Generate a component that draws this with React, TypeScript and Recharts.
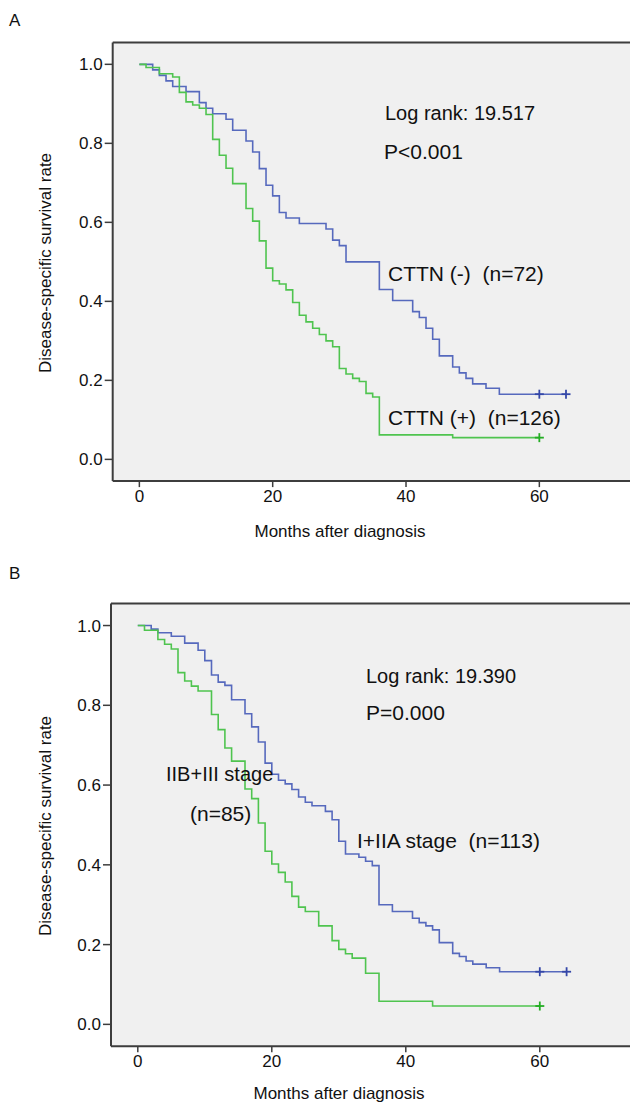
import React from 'react';
import { ComposedChart, Line, Scatter, XAxis, YAxis, CartesianGrid, ReferenceLine } from 'recharts';

const FONT = '"Liberation Sans", Arial, Helvetica, sans-serif';
const BLUE = '#5669bd';
const GREEN = '#4fc44f';
const BLUE_MARK = '#3447a8';
const GREEN_MARK = '#24ad24';

const monthTicks = [0, 20, 40, 60];
const rateTicks = [0, 0.2, 0.4, 0.6, 0.8, 1.0];

// A: CTTN (-), n=72
const aNegMonths = [0, 2, 3, 4, 5, 7, 9, 10, 11, 13, 14, 16, 17, 18, 19, 20, 21, 22, 24, 28, 29, 30, 31, 36, 38, 41, 42, 43, 44, 45, 47, 48, 49, 50, 52, 54, 64];
const aNegRate = [1.0, 0.986, 0.972, 0.958, 0.944, 0.931, 0.903, 0.889, 0.875, 0.861, 0.833, 0.806, 0.778, 0.736, 0.694, 0.667, 0.625, 0.611, 0.597, 0.583, 0.555, 0.541, 0.5, 0.43, 0.402, 0.374, 0.359, 0.332, 0.304, 0.262, 0.234, 0.219, 0.205, 0.191, 0.18, 0.165, 0.165];
const aNegCensor = [60, 64];

// A: CTTN (+), n=126
const aPosMonths = [0, 1, 3, 5, 6, 7, 8, 9, 10, 11, 12, 13, 14, 16, 17, 18, 19, 20, 21, 22, 23, 24, 25, 26, 27, 28, 29, 30, 31, 32, 33, 34, 35, 36, 47, 60];
const aPosRate = [1.0, 0.992, 0.976, 0.968, 0.929, 0.905, 0.897, 0.889, 0.873, 0.81, 0.77, 0.737, 0.698, 0.635, 0.603, 0.553, 0.484, 0.452, 0.444, 0.429, 0.397, 0.365, 0.348, 0.332, 0.316, 0.3, 0.285, 0.23, 0.216, 0.205, 0.197, 0.167, 0.158, 0.062, 0.055, 0.055];
const aPosCensor = [60];

// B: I+IIA stage, n=113
const bEarlyMonths = [0, 2, 3, 5, 7, 9, 10, 11, 12, 13, 14, 16, 17, 18, 19, 20, 21, 22, 23, 24, 25, 26, 28, 29, 30, 31, 33, 34, 35, 36, 38, 41, 42, 43, 44, 45, 47, 48, 49, 50, 52, 54, 64];
const bEarlyRate = [1.0, 0.991, 0.982, 0.973, 0.956, 0.938, 0.912, 0.876, 0.858, 0.85, 0.814, 0.779, 0.746, 0.708, 0.655, 0.627, 0.612, 0.603, 0.589, 0.57, 0.557, 0.548, 0.534, 0.513, 0.459, 0.427, 0.419, 0.409, 0.398, 0.3, 0.283, 0.266, 0.255, 0.247, 0.237, 0.205, 0.178, 0.17, 0.159, 0.151, 0.142, 0.132, 0.132];
const bEarlyCensor = [60, 64];

// B: IIB+III stage, n=85
const bLateMonths = [0, 1, 3, 4, 5, 6, 7, 8, 9, 11, 12, 13, 14, 16, 17, 18, 19, 20, 21, 22, 23, 24, 25, 27, 29, 30, 31, 32, 34, 36, 44, 60];
const bLateRate = [1.0, 0.988, 0.965, 0.953, 0.941, 0.882, 0.861, 0.848, 0.836, 0.777, 0.739, 0.693, 0.66, 0.59, 0.566, 0.505, 0.434, 0.402, 0.381, 0.357, 0.321, 0.294, 0.283, 0.247, 0.21, 0.188, 0.177, 0.166, 0.128, 0.058, 0.046, 0.046];
const bLateCensor = [60];

type Point = { t: number; s: number };

const toPoints = (months: number[], rate: number[]): Point[] => months.map((t, i) => ({ t, s: rate[i] }));

const levelAt = (months: number[], rate: number[], t: number) => {
  let v = rate[0];
  months.forEach((m, i) => {
    if (m <= t) v = rate[i];
  });
  return v;
};

const censorPoints = (censor: number[], months: number[], rate: number[]): Point[] =>
  censor.map((t) => ({ t, s: levelAt(months, rate, t) }));

const Plus = ({ cx, cy, color }: { cx?: number; cy?: number; color: string }) => {
  if (cx == null || cy == null) return null;
  return (
    <g>
      <line x1={cx - 4.5} x2={cx + 4.5} y1={cy} y2={cy} stroke={color} strokeWidth={1.8} />
      <line x1={cx} x2={cx} y1={cy - 4.5} y2={cy + 4.5} stroke={color} strokeWidth={1.8} />
    </g>
  );
};

interface Curve {
  months: number[];
  rate: number[];
  censor: number[];
  color: string;
  mark: string;
}

interface KMChartProps {
  width: number;
  height: number;
  margin: { top: number; left: number; right: number; bottom: number };
  curves: Curve[];
}

const FRAME = '#3d3d3d';

const KMChart: React.FC<KMChartProps> = ({ width, height, margin, curves }) => (
  <ComposedChart width={width} height={height} margin={margin}>
    <CartesianGrid horizontal={false} vertical={false} fill="#f0f0f0" />
    <XAxis
      type="number"
      dataKey="t"
      domain={[-4, 76]}
      ticks={monthTicks}
      allowDataOverflow
      height={40}
      tickSize={6}
      tickMargin={3}
      axisLine={{ stroke: FRAME, strokeWidth: 2 }}
      tickLine={{ stroke: FRAME, strokeWidth: 1.5 }}
      tick={{ fill: '#111', fontSize: 17, fontFamily: FONT }}
    />
    <YAxis
      type="number"
      dataKey="s"
      domain={[-0.055, 1.055]}
      ticks={rateTicks}
      allowDataOverflow
      width={50}
      tickSize={8}
      tickMargin={2}
      tickFormatter={(v: number) => v.toFixed(1)}
      axisLine={{ stroke: FRAME, strokeWidth: 2 }}
      tickLine={{ stroke: FRAME, strokeWidth: 1.5 }}
      tick={{ fill: '#111', fontSize: 17, fontFamily: FONT }}
    />
    <ReferenceLine y={1.055} stroke={FRAME} strokeWidth={2} />
    {curves.map((c, i) => (
      <Line
        key={`line-${i}`}
        data={toPoints(c.months, c.rate)}
        dataKey="s"
        type="stepAfter"
        stroke={c.color}
        strokeWidth={1.6}
        dot={false}
        isAnimationActive={false}
      />
    ))}
    {curves.map((c, i) => (
      <Scatter
        key={`censor-${i}`}
        data={censorPoints(c.censor, c.months, c.rate)}
        dataKey="s"
        shape={(p: any) => <Plus cx={p.cx} cy={p.cy} color={c.mark} />}
        isAnimationActive={false}
      />
    ))}
  </ComposedChart>
);

const Txt: React.FC<{ x: number; y: number; size?: number; children: React.ReactNode; center?: boolean }> = ({ x, y, size = 17, children, center }) => (
  <div
    style={{
      position: 'absolute',
      left: x,
      top: y - size * 0.49,
      fontSize: size,
      lineHeight: `${size}px`,
      fontFamily: FONT,
      color: '#111',
      whiteSpace: 'pre',
      transform: center ? 'translateX(-50%)' : undefined,
    }}
  >
    {children}
  </div>
);

const YTitle: React.FC<{ x: number; y: number }> = ({ x, y }) => (
  <div
    style={{
      position: 'absolute',
      left: x,
      top: y,
      fontSize: 17,
      lineHeight: '17px',
      fontFamily: FONT,
      color: '#111',
      whiteSpace: 'pre',
      transform: 'translate(-50%, -50%) rotate(-90deg)',
    }}
  >
    Disease-specific survival rate
  </div>
);

const NOTE = 21;
const NOTE_SMALL = 20;

export default function App() {
  return (
    <div style={{ position: 'absolute', left: 0, top: 0, width: 630, height: 1104, overflow: 'hidden', background: '#fff' }}>
      <div style={{ position: 'absolute', left: 0, top: 0 }}>
        <KMChart
          width={660}
          height={550}
          margin={{ top: 42.6, left: 62.7, right: 14, bottom: 28.9 }}
          curves={[
            { months: aNegMonths, rate: aNegRate, censor: aNegCensor, color: BLUE, mark: BLUE_MARK },
            { months: aPosMonths, rate: aPosRate, censor: aPosCensor, color: GREEN, mark: GREEN_MARK },
          ]}
        />
      </div>
      <div style={{ position: 'absolute', left: 0, top: 560 }}>
        <KMChart
          width={661}
          height={555}
          margin={{ top: 43.6, left: 61, right: 14, bottom: 28.7 }}
          curves={[
            { months: bEarlyMonths, rate: bEarlyRate, censor: bEarlyCensor, color: BLUE, mark: BLUE_MARK },
            { months: bLateMonths, rate: bLateRate, censor: bLateCensor, color: GREEN, mark: GREEN_MARK },
          ]}
        />
      </div>

      <Txt x={9} y={20}>A</Txt>
      <YTitle x={45} y={263} />
      <Txt x={340} y={531} center>Months after diagnosis</Txt>
      <Txt x={385} y={113} size={NOTE_SMALL}>Log rank: 19.517</Txt>
      <Txt x={384} y={151} size={NOTE}>P&lt;0.001</Txt>
      <Txt x={388} y={273} size={NOTE}>{'CTTN (-)  (n=72)'}</Txt>
      <Txt x={388} y={417} size={NOTE}>{'CTTN (+)  (n=126)'}</Txt>

      <Txt x={9} y={573}>B</Txt>
      <YTitle x={45} y={826} />
      <Txt x={339} y={1093} center>Months after diagnosis</Txt>
      <Txt x={366} y={676} size={NOTE_SMALL}>Log rank: 19.390</Txt>
      <Txt x={366} y={712} size={NOTE}>P=0.000</Txt>
      <Txt x={357} y={840} size={NOTE}>{'I+IIA stage  (n=113)'}</Txt>
      <Txt x={166} y={774} size={NOTE_SMALL}>IIB+III stage</Txt>
      <Txt x={190} y={813} size={NOTE}>(n=85)</Txt>
    </div>
  );
}
